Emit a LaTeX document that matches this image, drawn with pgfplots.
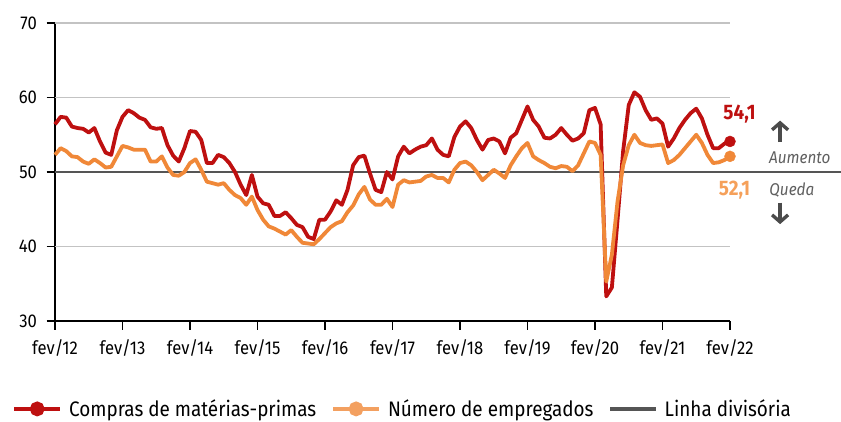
\documentclass[border=0pt]{standalone}
\usepackage{fontspec}
\setmainfont{Fira Sans}[FakeStretch=0.9]
\usepackage{pgfplots}
\usepackage{pgfplotstable}
\pgfplotsset{compat=1.18}
\usetikzlibrary{arrows.meta}
\definecolor{cred}{RGB}{190,16,16}
\definecolor{corange}{RGB}{240,136,56}
\definecolor{corangelbl}{RGB}{245,160,90}
\definecolor{cgray}{RGB}{85,85,85}
\definecolor{cgrid}{RGB}{195,195,195}
\definecolor{ctxt}{RGB}{95,95,95}
\definecolor{carrow}{RGB}{75,75,75}

\pgfplotstableread{
i red orange
0 56.4 52.3
1 57.4 53.2
2 57.3 52.8
3 56.1 52.1
4 55.9 52.0
5 55.8 51.4
6 55.3 51.1
7 55.9 51.7
8 54.1 51.2
9 52.6 50.6
10 52.3 50.7
11 55.6 52.1
12 57.4 53.5
13 58.3 53.3
14 57.9 53.0
15 57.3 53.0
16 57.0 53.0
17 56.0 51.4
18 55.8 51.4
19 55.9 52.1
20 53.6 50.6
21 52.2 49.6
22 51.4 49.5
23 53.2 50.0
24 55.5 51.2
25 55.4 51.7
26 54.3 50.3
27 51.2 48.7
28 51.2 48.5
29 52.3 48.3
30 52.0 48.5
31 51.2 47.6
32 50.0 46.9
33 48.3 46.5
34 46.9 45.6
35 49.6 46.7
36 46.7 44.9
37 45.8 43.6
38 45.6 42.7
39 44.1 42.4
40 44.1 42.0
41 44.6 41.6
42 43.8 42.2
43 42.9 41.3
44 42.6 40.5
45 41.3 40.4
46 41.0 40.3
47 43.6 41.0
48 43.6 41.8
49 44.7 42.6
50 46.2 43.1
51 45.6 43.4
52 47.6 44.6
53 50.9 45.5
54 52.0 47.0
55 52.2 48.0
56 49.8 46.3
57 47.6 45.6
58 47.3 45.6
59 50.0 46.4
60 49.0 45.3
61 52.1 48.3
62 53.4 48.9
63 52.5 48.6
64 53.0 48.7
65 53.4 48.8
66 53.6 49.4
67 54.5 49.6
68 53.0 49.2
69 52.3 49.2
70 52.1 48.6
71 54.7 50.3
72 56.1 51.2
73 56.8 51.4
74 55.9 50.9
75 54.3 50.0
76 53.0 48.9
77 54.3 49.6
78 54.5 50.3
79 54.1 49.8
80 52.5 49.2
81 54.6 50.9
82 55.2 52.1
83 57.0 53.2
84 58.8 53.9
85 57.0 52.1
86 56.1 51.6
87 54.6 51.2
88 54.5 50.7
89 55.0 50.5
90 55.9 50.8
91 55.0 50.7
92 54.2 50.1
93 54.5 50.9
94 55.2 52.5
95 58.3 54.1
96 58.6 53.9
97 56.4 52.3
98 33.3 35.3
99 34.5 38.9
100 43.5 46.0
101 52.8 50.9
102 59.0 53.6
103 60.7 55.0
104 60.1 53.9
105 58.3 53.6
106 57.0 53.5
107 57.2 53.6
108 56.5 53.7
109 53.4 51.2
110 54.5 51.6
111 55.9 52.3
112 57.0 53.2
113 57.9 54.1
114 58.5 55.0
115 57.2 53.9
116 55.0 52.3
117 53.2 51.2
118 53.2 51.3
119 53.8 51.6
120 54.1 52.1
}\datatable

\begin{document}
\begin{tikzpicture}
\useasboundingbox (0,0) rectangle (841pt,421pt);
\begin{axis}[
  at={(55pt,100pt)}, anchor=south west,
  scale only axis, width=675pt, height=298pt,
  xmin=0, xmax=120, ymin=30, ymax=70,
  axis x line=bottom, axis y line=left,
  axis line style={-, line width=1.4pt, black},
  xtick={0,12,...,120},
  xticklabels={fev/12,fev/13,fev/14,fev/15,fev/16,fev/17,fev/18,fev/19,fev/20,fev/21,fev/22},
  ytick={30,40,50,60,70},
  tick style={black, line width=1.2pt},
  major tick length=8.5pt,
  tick align=outside,
  ticklabel style={font=\fontsize{18.5}{18.5}\selectfont, text=black},
  xticklabel style={yshift=-7pt},
  yticklabel style={xshift=-6pt},
  /pgf/number format/assume math mode=true,
  clip=false,
  legend columns=3,
  legend style={at={(-0.068,-0.295)}, anchor=west, draw=none, fill=none,
    font=\fontsize{21}{21}\selectfont,
    /tikz/every odd column/.append style={column sep=5pt},
    /tikz/every even column/.append style={column sep=13pt}},
  legend cell align=left,
  legend image code/.code={\draw[mark repeat=2,mark phase=2,#1] plot coordinates {(0pt,0pt)(23pt,0pt)(46pt,0pt)};},
]
\addlegendimage{cred, line width=3.8pt, mark=*, mark size=5.5pt}
\addlegendentry{Compras de matérias-primas}
\addlegendimage{corange!80!white, line width=3.8pt, mark=*, mark size=5.5pt}
\addlegendentry{Número de empregados}
\addlegendimage{cgray, line width=3.2pt}
\addlegendentry{Linha divisória}

\addplot[cgrid, line width=1.3pt, forget plot] coordinates {(0,60) (120,60)};
\addplot[cgrid, line width=1.3pt, forget plot] coordinates {(0,40) (120,40)};
\addplot[cgrid, line width=1.3pt, forget plot] coordinates {(0,70) (120,70)};
\addplot[cgray, line width=2.8pt, forget plot] coordinates {(0,50) (139.8,50)};

\addplot[cred, line width=3.8pt, line join=round, forget plot] table[x=i,y=red]{\datatable};
\addplot[corange, line width=3.8pt, line join=round, forget plot] table[x=i,y=orange]{\datatable};
\addplot[cred, only marks, mark=*, mark size=5.5pt, forget plot] coordinates {(120,54.1)};
\addplot[corange, only marks, mark=*, mark size=5.5pt, forget plot] coordinates {(120,52.1)};

\node[font=\bfseries\fontsize{21}{21}\selectfont, text=cred] at (axis cs:121.7,57.8) {54,1};
\node[font=\bfseries\fontsize{21}{21}\selectfont, text=corangelbl] at (axis cs:120.8,47.6) {52,1};
\node[font=\itshape\fontsize{17}{17}\selectfont, text=ctxt] at (axis cs:132.4,51.9) {Aumento};
\node[font=\itshape\fontsize{17}{17}\selectfont, text=ctxt] at (axis cs:131.0,47.6) {Queda};
\draw[carrow, line width=3.4pt, -{Straight Barb[length=7pt,width=16pt]}] (axis cs:128.9,54.0) -- (axis cs:128.9,56.9);
\draw[carrow, line width=3.4pt, -{Straight Barb[length=7pt,width=16pt]}] (axis cs:128.9,45.9) -- (axis cs:128.9,43.0);
\end{axis}
\end{tikzpicture}
\end{document}
